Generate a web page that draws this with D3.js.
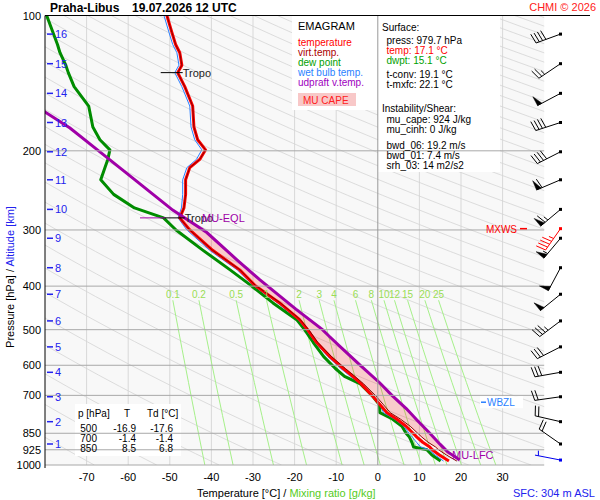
<!DOCTYPE html>
<html lang="en">
<head>
<meta charset="UTF-8">
<title>Emagram Praha-Libus</title>
<script src="https://cdn.jsdelivr.net/npm/d3@7/dist/d3.min.js"></script>
<style>
  body { margin: 0; background: #fff; }
  svg { font-family: "Liberation Sans", Arial, sans-serif; }
</style>
</head>
<body>
<script>
// sounding levels (hPa) and profiles (°C)
const levP  = [100,109,116,121,129,134,144,159,177,189,199,209,218,232,250,268,282,300,333,368,398,436,475,500,534,574,610,635,660,700,735,765,790,820,850,867,890,912,925,950,980];
const temp  = [-50.7,-49.5,-48.6,-47.6,-47.1,-48.1,-46.4,-44.5,-44.2,-43.3,-41.4,-42.8,-45.2,-46.2,-46.2,-46.6,-47.6,-45.2,-39.7,-33.2,-29.6,-23.6,-18.8,-16.9,-14.7,-11.5,-8.3,-6.0,-4.0,-1.4,0.6,2.2,4.5,6.8,8.5,9.4,10.8,12.5,13.1,14.8,17.1];
const dwpt  = [-79.6,-78.1,-77.0,-76.4,-75.0,-74.4,-73.0,-69.5,-68.5,-66.8,-64.4,-64.9,-65.6,-66.6,-63.5,-58.5,-51.5,-48.5,-42.0,-35.5,-30.6,-25.2,-19.5,-17.6,-15.5,-13.0,-10.2,-8.0,-4.2,-1.4,0.4,0.5,3.5,5.8,6.8,7.6,8.2,8.6,11.8,13.0,15.1];
const tvirt = [-50.7,-49.5,-48.6,-47.6,-47.1,-48.1,-46.4,-44.5,-44.2,-43.3,-41.4,-42.8,-45.2,-46.2,-46.2,-46.6,-47.6,-45.2,-39.7,-33.1,-29.5,-23.4,-18.6,-16.6,-14.4,-11.1,-7.8,-5.5,-3.4,-0.6,1.4,3.0,5.4,7.8,9.6,10.6,12.1,13.9,14.6,16.5,19.0];
const twet  = [-51.4,-50.2,-49.3,-48.3,-47.8,-48.8,-47.1,-45.2,-44.9,-44.0,-42.3,-43.6,-45.9,-46.9,-46.9,-47.2,-48.0,-45.9,-40.4,-33.8,-30.0,-24.1,-19.1,-17.2,-15.0,-12.0,-8.9,-6.6,-4.1,-1.4,0.5,1.4,4.0,6.3,7.5,8.3,9.3,10.3,12.3,13.8,15.8];

// most unstable parcel, virtual temperature
const parcelP = [150,164,178,200,230,271,304,350,387,450,500,519,550,600,657,700,750,794,850,900,935,975];
const parcelT = [-85.0,-80.0,-74.0,-67.1,-58.9,-49.3,-41.1,-33.8,-28.4,-19.7,-13.3,-11.5,-8.6,-4.2,0.5,3.4,6.9,9.4,12.5,15.0,16.8,19.7];

const eqlP = 282, lfcP = 950, wbzlP = 725;
const tropoP = [134, 282];

// altitude (km) marks and winds at each km
const kmLabels = [1,2,3,4,5,6,7,8,9,10,11,12,13,14,15,16];
const kmPres   = [898,801,705,622,546,478,417,364,313,270,232,201,173,149,128,110];
const windDir  = [305,283,262,260,243,233,231,208,220,230,247,243,252,242,236,250];
const windSpd  = [20,20,20,30,30,35,50,50,55,65,60,40,40,50,25,40];
const mxwsP = 298, mxwsDir = 215, mxwsSpd = 45;
const sfcP = 975, sfcDir = 281, sfcSpd = 5;

// axes
const tempTicks  = [-70,-60,-50,-40,-30,-20,-10,0,10,20,30];
const presTicks  = [100,200,300,400,500,600,700,850,925,1000];
const mixRatios  = [0.1,0.2,0.5,1,2,3,4,6,8,10,12,15,20,25];

// table
const tabP  = [500,700,850];
const tabT  = [-16.9,-1.4,8.5];
const tabTd = [-17.6,-1.4,6.8];

const width = 600, height = 500;
const svg = d3.select('body').append('svg')
    .attr('width', width).attr('height', height);

const x = d3.scaleLinear().domain([-80, 40]).range([45, 544.2]);
const y = d3.scaleLog().domain([100, 1000]).range([15.5, 465]);
const x0 = x(-80), x1 = x(40), y0 = y(100), y1 = y(1000);

svg.append('defs').append('clipPath').attr('id', 'plotclip')
  .append('rect').attr('x', x0).attr('y', y0).attr('width', x1 - x0).attr('height', y1 - y0);

svg.append('rect').attr('x', x0).attr('y', y0).attr('width', x1 - x0).attr('height', y1 - y0)
    .attr('fill', '#f8f8f8');

const plot = svg.append('g').attr('clip-path', 'url(#plotclip)');

// isotherms
plot.selectAll('.iso').data(tempTicks.filter(t => t !== 0)).enter().append('line')
    .attr('x1', d => x(d)).attr('x2', d => x(d)).attr('y1', y0).attr('y2', y1)
    .attr('stroke', '#d8d8d8').attr('stroke-width', 1);

// adiabats (drawn as the chart shows them)
const pSamples = d3.range(0, 41).map(i => 100 * Math.pow(10, i / 40));
const thetas = d3.range(190, 840, 15);
const line = d3.line().x(d => x(d[1])).y(d => y(d[0]));
plot.selectAll('.dry').data(thetas).enter().append('path')
    .attr('d', th => line(pSamples.map(p => [p, th * Math.pow(p / 1000, 0.42) - 273.15])))
    .attr('fill', 'none').attr('stroke', '#d4d4d4').attr('stroke-width', 0.8);

// mixing ratio lines
function tdFromMix(w, p) {
  const e = w * p / (622 + w);
  const l = Math.log(e / 6.112);
  return 243.5 * l / (17.67 - l);
}
const mixP = d3.range(0, 11).map(i => 430 * Math.pow(1000 / 430, i / 10));
plot.selectAll('.mix').data(mixRatios).enter().append('path')
    .attr('d', w => line(mixP.map(p => [p, tdFromMix(w, p)])))
    .attr('fill', 'none').attr('stroke', '#a6f08a').attr('stroke-width', 1);

// white boxes
svg.append('rect').attr('x', 292).attr('y', y0).attr('width', 378 - 292).attr('height', 110 - y0).attr('fill', '#fff');
svg.append('rect').attr('x', 378).attr('y', y0).attr('width', 122).attr('height', 172 - y0).attr('fill', '#fff');
svg.append('rect').attr('x', 75).attr('y', 404).attr('width', 106).attr('height', 52).attr('fill', '#fff');

// isobars and 0°C isotherm
svg.selectAll('.isobar').data(presTicks.filter(p => p > 100)).enter().append('line')
    .attr('x1', x0).attr('x2', x1).attr('y1', d => y(d)).attr('y2', d => y(d))
    .attr('stroke', '#a8a8a8').attr('stroke-width', 1);
svg.append('line').attr('x1', x(0)).attr('x2', x(0)).attr('y1', y0).attr('y2', y1)
    .attr('stroke', '#999').attr('stroke-width', 1);

// mixing ratio labels
svg.selectAll('.mixlab').data(mixRatios).enter().append('text')
    .attr('x', w => x(tdFromMix(w, 430))).attr('y', y(430) - 2)
    .attr('text-anchor', 'middle').attr('font-size', 10).attr('fill', '#99dd55')
    .text(w => w);

// interpolation in ln p
function interp(P, T, p) {
  for (let i = 0; i < P.length - 1; i++) {
    if (p >= P[i] && p <= P[i + 1]) {
      const f = Math.log(p / P[i]) / Math.log(P[i + 1] / P[i]);
      return T[i] + f * (T[i + 1] - T[i]);
    }
  }
  return p < P[0] ? T[0] : T[T.length - 1];
}

// CAPE area
const capeP = Array.from(new Set([eqlP, ...levP, ...parcelP, lfcP]))
    .filter(p => p >= eqlP && p <= lfcP).sort((a, b) => a - b);
const capePts = capeP.map(p => [p, interp(parcelP, parcelT, p)])
    .concat(capeP.slice().reverse().map(p => [p, interp(levP, tvirt, p)]));
plot.append('path').attr('d', line(capePts) + 'Z')
    .attr('fill', '#ff0000').attr('fill-opacity', 0.18).attr('stroke', 'none');

function profile(T, color, w) {
  plot.append('path').attr('d', line(levP.map((p, i) => [p, T[i]])))
      .attr('fill', 'none').attr('stroke', color).attr('stroke-width', w)
      .attr('stroke-linejoin', 'round');
}
profile(dwpt, '#008c00', 3);
profile(twet, '#2a7fff', 1);
profile(temp, '#ff0000', 3);
profile(tvirt, '#8b0000', 1);
plot.append('path').attr('d', line(parcelP.map((p, i) => [p, parcelT[i]])))
    .attr('fill', 'none').attr('stroke', '#a000a8').attr('stroke-width', 3);

// borders
svg.append('line').attr('x1', x0).attr('x2', 590).attr('y1', y0).attr('y2', y0).attr('stroke', '#000');
svg.append('line').attr('x1', x0).attr('x2', x0).attr('y1', y0).attr('y2', 468).attr('stroke', '#000');

// axis labels
svg.selectAll('.plab').data(presTicks).enter().append('text')
    .attr('x', 41).attr('y', d => y(d) + 4).attr('text-anchor', 'end')
    .attr('font-size', 11).attr('fill', '#000').text(d => d);
svg.selectAll('.tlab').data(tempTicks).enter().append('text')
    .attr('x', d => x(d)).attr('y', 481).attr('text-anchor', 'middle')
    .attr('font-size', 11).attr('fill', '#000').text(d => d);

// altitude marks
const km = svg.selectAll('.km').data(kmLabels).enter().append('g')
    .attr('transform', (d, i) => `translate(0,${y(kmPres[i])})`);
km.append('line').attr('x1', 47).attr('x2', 53).attr('y1', 0).attr('y2', 0)
    .attr('stroke', '#2222ee').attr('stroke-width', 1.5);
km.append('text').attr('x', 55).attr('y', 4).attr('font-size', 11).attr('fill', '#2222ee').text(d => d);

// axis titles
const yt = svg.append('text').attr('transform', 'translate(14,277) rotate(-90)')
    .attr('text-anchor', 'middle').attr('font-size', 11);
yt.append('tspan').attr('fill', '#000').text('Pressure [hPa]  /  ');
yt.append('tspan').attr('fill', '#2222ee').text('Altitude [km]');

const xt = svg.append('text').attr('x', 197).attr('y', 497).attr('font-size', 11);
xt.append('tspan').attr('fill', '#000').text('Temperature [°C]  /  ');
xt.append('tspan').attr('fill', '#55cc22').text('Mixing ratio [g/kg]');
svg.append('text').attr('x', 513).attr('y', 497).attr('font-size', 11).attr('fill', '#2222ee')
    .text('SFC: 304 m ASL');

// title
svg.append('text').attr('x', 50).attr('y', 12).attr('font-size', 12).attr('font-weight', 'bold')
    .text('Praha-Libus');
svg.append('text').attr('x', 132).attr('y', 12).attr('font-size', 12).attr('font-weight', 'bold')
    .text('19.07.2026 12 UTC');
svg.append('text').attr('x', 596).attr('y', 11).attr('text-anchor', 'end').attr('font-size', 11)
    .attr('fill', '#ff2020').text('CHMI © 2026');

// tropopause and parcel marks
tropoP.forEach(p => {
  const tx = x(interp(levP, temp, p));
  svg.append('line').attr('x1', tx - 17).attr('x2', tx + 5).attr('y1', y(p)).attr('y2', y(p))
      .attr('stroke', '#000').attr('stroke-width', 1);
  svg.append('text').attr('x', tx + 5).attr('y', y(p) + 4).attr('font-size', 11)
      .attr('fill', '#222').text('Tropo');
});
svg.append('line').attr('x1', 140).attr('x2', 165).attr('y1', y(eqlP)).attr('y2', y(eqlP))
    .attr('stroke', '#a000a8').attr('stroke-width', 1);
svg.append('text').attr('x', 202).attr('y', y(eqlP) + 4).attr('font-size', 11)
    .attr('fill', '#a000a8').text('MU-EQL');
svg.append('text').attr('x', 452).attr('y', y(lfcP) + 4).attr('font-size', 11)
    .attr('fill', '#a000a8').text('MU-LFC');

// MXWS and WBZL labels
svg.append('text').attr('x', 517).attr('y', y(mxwsP) + 4).attr('text-anchor', 'end')
    .attr('font-size', 10).attr('fill', '#ff0000').text('MXWS');
svg.append('line').attr('x1', 520).attr('x2', 527).attr('y1', y(mxwsP)).attr('y2', y(mxwsP))
    .attr('stroke', '#ff0000').attr('stroke-width', 1.5);
svg.append('rect').attr('x', 480).attr('y', y(wbzlP) - 6).attr('width', 43).attr('height', 12).attr('fill', '#fff');
svg.append('line').attr('x1', 481).attr('x2', 486).attr('y1', y(wbzlP)).attr('y2', y(wbzlP))
    .attr('stroke', '#2a7fff').attr('stroke-width', 1.5);
svg.append('text').attr('x', 487).attr('y', y(wbzlP) + 4).attr('font-size', 10)
    .attr('fill', '#2a7fff').text('WBZL');

// legend
const leg = [
  ['temperature', '#ff0000'], ['virt.temp.', '#aa0000'], ['dew point', '#00a000'],
  ['wet bulb temp.', '#2a7fff'], ['udpraft v.temp.', '#a000c0']
];
svg.append('text').attr('x', 298).attr('y', 30).attr('font-size', 11).text('EMAGRAM');
svg.selectAll('.leg').data(leg).enter().append('text')
    .attr('x', 298).attr('y', (d, i) => 46 + i * 10).attr('font-size', 10)
    .attr('fill', d => d[1]).text(d => d[0]);
svg.append('rect').attr('x', 298).attr('y', 93).attr('width', 58).attr('height', 13).attr('fill', '#f8c8c8');
svg.append('text').attr('x', 303).attr('y', 104).attr('font-size', 10).attr('fill', '#ff2020').text('MU CAPE');

// info block
const info = [
  ['Surface:', '#000', 31, 382], ['press: 979.7 hPa', '#000', 43.5, 386.5],
  ['temp: 17.1 °C', '#ff0000', 53.5, 386.5], ['dwpt: 15.1 °C', '#00a000', 63.5, 386.5],
  ['t-conv: 19.1 °C', '#000', 77.5, 386.5], ['t-mxfc: 22.1 °C', '#000', 87.5, 386.5],
  ['Instability/Shear:', '#000', 112, 382], ['mu_cape: 924 J/kg', '#000', 123, 386.5],
  ['mu_cinh: 0 J/kg', '#000', 133, 386.5], ['bwd_06: 19.2 m/s', '#000', 148.5, 386.5],
  ['bwd_01: 7.4 m/s', '#000', 158.5, 386.5], ['srh_03: 14 m2/s2', '#000', 168.5, 386.5]
];
svg.selectAll('.info').data(info).enter().append('text')
    .attr('x', d => d[3]).attr('y', d => d[2]).attr('font-size', 10)
    .attr('fill', d => d[1]).text(d => d[0]);

// table
const tab = svg.append('g').attr('font-size', 10);
tab.append('text').attr('x', 78).attr('y', 417).text('p [hPa]');
tab.append('text').attr('x', 127).attr('y', 417).attr('text-anchor', 'middle').text('T');
tab.append('text').attr('x', 147).attr('y', 417).text('Td [°C]');
tabP.forEach((p, i) => {
  const ty = 432 + i * 10;
  tab.append('text').attr('x', 97).attr('y', ty).attr('text-anchor', 'end').text(p);
  tab.append('text').attr('x', 136).attr('y', ty).attr('text-anchor', 'end').text(tabT[i].toFixed(1));
  tab.append('text').attr('x', 173).attr('y', ty).attr('text-anchor', 'end').text(tabTd[i].toFixed(1));
});

// wind barbs
const bx = 560.5;
function barb(p, dir, spd, color) {
  const g = svg.append('g');
  const py = y(p);
  const r = dir * Math.PI / 180;
  const ux = Math.sin(r), uy = -Math.cos(r);
  const nx = -uy, ny = ux;
  const L = 26, bl = 10, sp = 3.5;
  const ex = bx + L * ux, ey = py + L * uy;
  g.append('line').attr('x1', bx).attr('y1', py).attr('x2', ex).attr('y2', ey)
      .attr('stroke', color).attr('stroke-width', 1);
  g.append('rect').attr('x', bx - 1.5).attr('y', py - 1.5).attr('width', 3).attr('height', 3).attr('fill', color);
  let s = Math.round(spd / 5) * 5, pos = 0;
  while (s >= 50) {
    const ax = ex - pos * ux, ay = ey - pos * uy;
    const bxx = ex - (pos + 5) * ux, byy = ey - (pos + 5) * uy;
    g.append('path').attr('d', `M${ax},${ay}L${bxx},${byy}L${ax + bl * nx},${ay + bl * ny}Z`)
        .attr('fill', color).attr('stroke', color).attr('stroke-width', 0.5);
    pos += 6; s -= 50;
  }
  const tick = len => {
    const ax = ex - pos * ux, ay = ey - pos * uy;
    g.append('line').attr('x1', ax).attr('y1', ay)
        .attr('x2', ax + len * (nx + 0.2 * ux)).attr('y2', ay + len * (ny + 0.2 * uy))
        .attr('stroke', color).attr('stroke-width', 1);
  };
  while (s >= 10) { tick(bl); pos += sp; s -= 10; }
  if (s >= 5) { if (pos === 0) pos = sp; tick(bl / 2); }
}
kmPres.forEach((p, i) => barb(p, windDir[i], windSpd[i], '#000'));
barb(mxwsP, mxwsDir, mxwsSpd, '#ff0000');
barb(sfcP, sfcDir, sfcSpd, '#0000ee');
</script>
</body>
</html>
